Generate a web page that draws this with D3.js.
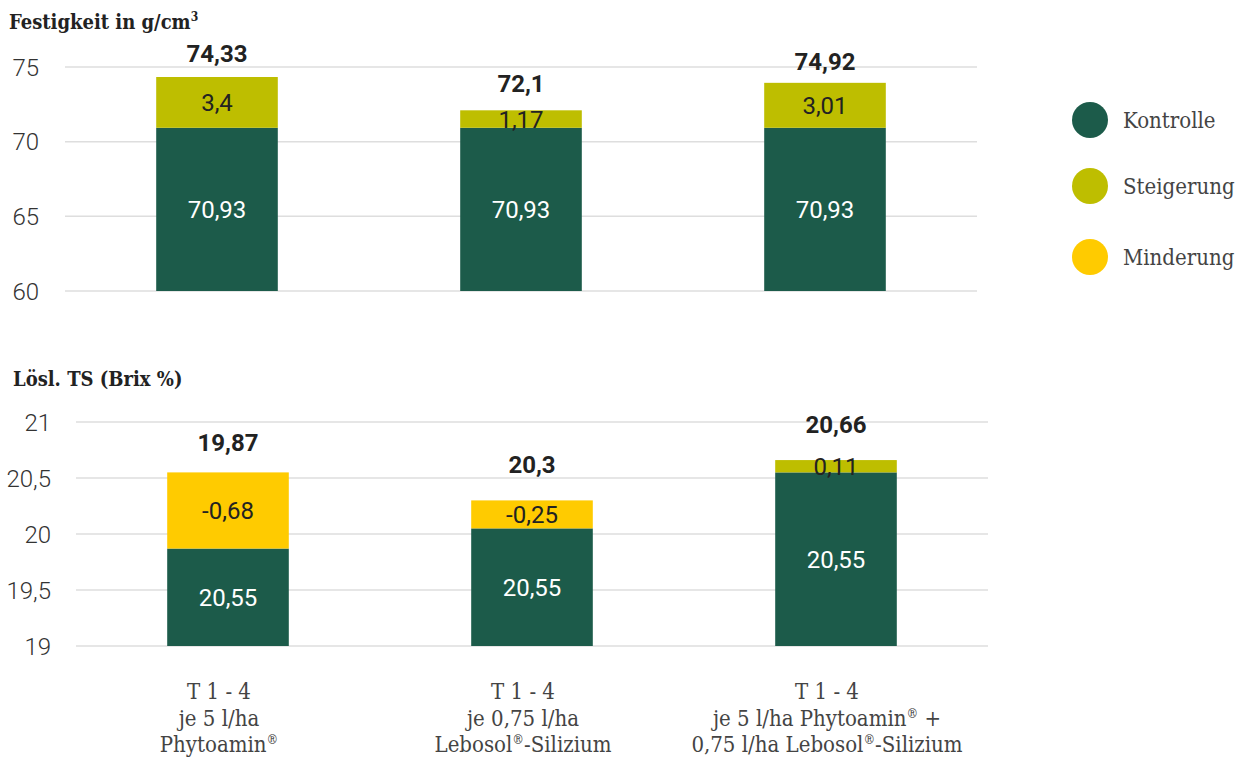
<!DOCTYPE html>
<html><head><meta charset="utf-8">
<script src="https://cdn.jsdelivr.net/npm/d3@7"></script>
<style>
body{margin:0;background:#fff;}
svg{display:block;}
.slab{font-family:"Roboto Slab","DejaVu Serif Condensed","DejaVu Serif",serif;}
.num{font-family:Roboto,"Noto Sans",sans-serif;}
</style></head>
<body><svg id="c" width="1252" height="760"></svg>
<script>
// ---- data ----
const categories = ["Phytoamin", "Lebosol", "Kombi"];
const xLabelLines = [
  ["T 1 - 4", "je 5 l/ha", "Phytoamin®"],
  ["T 1 - 4", "je 0,75 l/ha", "Lebosol®-Silizium"],
  ["T 1 - 4", "je 5 l/ha Phytoamin® +", "0,75 l/ha Lebosol®-Silizium"]
];
const festTitle = "Festigkeit in g/cm";
const festTitleSup = "3";
const festTicks = [60, 65, 70, 75];
const festKontrolle = [70.93, 70.93, 70.93];
const festSteigerung = [3.4, 1.17, 3.01];
const festMinderung = [0, 0, 0];
const festTotalLabels = ["74,33", "72,1", "74,92"];

const brixTitle = "Lösl. TS (Brix %)";
const brixTicks = [19, 19.5, 20, 20.5, 21];
const brixBase = [19.87, 20.05, 20.55];      // drawn height of the Kontrolle segment
const brixKontrolle = [20.55, 20.55, 20.55]; // printed Kontrolle value
const brixSteigerung = [0, 0, 0.11];
const brixMinderung = [0.68, 0.25, 0];
const brixTotalLabels = ["19,87", "20,3", "20,66"];

const legendNames = ["Kontrolle", "Steigerung", "Minderung"];
const colors = {Kontrolle: "#1c5b4a", Steigerung: "#bebe00", Minderung: "#ffcb00"};

const fmt = v => String(v).replace(".", ",");
const svg = d3.select("#c");

function panel(opt) {
  const x = d3.scaleBand().domain(categories).range(opt.xr).paddingInner(0.6).paddingOuter(0.3);
  const y = d3.scaleLinear().domain(opt.domain).range(opt.yr);
  const g = svg.append("g");
  g.selectAll("line.grid").data(opt.ticks).join("line")
    .attr("x1", opt.xr[0]).attr("x2", opt.xr[1])
    .attr("y1", d => y(d)).attr("y2", d => y(d))
    .attr("stroke", "#dedede").attr("stroke-width", 1.5);
  g.selectAll("text.tick").data(opt.ticks).join("text")
    .attr("class", "num").attr("x", opt.tickX).attr("y", d => y(d)).attr("dy", "0.36em")
    .attr("text-anchor", "end").attr("font-size", 24).attr("font-weight", 300).attr("fill", "#333")
    .text(d => fmt(d));
  const tt = g.append("text").attr("class", "slab").attr("x", opt.titleX).attr("y", opt.titleY)
    .attr("font-size", 20).attr("font-weight", 700).attr("fill", "#222");
  tt.append("tspan").text(opt.title);
  if (opt.titleSup) tt.append("tspan").attr("font-size", 12).attr("dy", -8).text(opt.titleSup);

  categories.forEach((c, i) => {
    const segs = [];
    let cur = opt.domain[0];
    segs.push({k: "Kontrolle", y0: cur, y1: opt.base[i], label: fmt(opt.kontrolle[i]), fill: "#fff"});
    cur = opt.base[i];
    if (opt.minderung[i] > 0) { segs.push({k: "Minderung", y0: cur, y1: cur + opt.minderung[i], label: "-" + fmt(opt.minderung[i]), fill: "#222"}); cur += opt.minderung[i]; }
    if (opt.steigerung[i] > 0) { segs.push({k: "Steigerung", y0: cur, y1: cur + opt.steigerung[i], label: fmt(opt.steigerung[i]), fill: "#222"}); cur += opt.steigerung[i]; }
    segs.forEach(s => {
      g.append("rect").attr("x", x(c)).attr("width", x.bandwidth())
        .attr("y", y(s.y1)).attr("height", y(s.y0) - y(s.y1)).attr("fill", colors[s.k]);
    });
    segs.forEach(s => {
      g.append("text").attr("class", "num").attr("x", x(c) + x.bandwidth() / 2)
        .attr("y", (y(s.y0) + y(s.y1)) / 2).attr("dy", "0.36em").attr("text-anchor", "middle")
        .attr("font-size", 24).attr("font-weight", 400).attr("fill", s.fill).text(s.label);
    });
    g.append("text").attr("class", "num").attr("x", x(c) + x.bandwidth() / 2)
      .attr("y", y(cur) - opt.totalOff[i]).attr("text-anchor", "middle")
      .attr("font-size", 24).attr("font-weight", 700).attr("fill", "#222").text(opt.totals[i]);
  });
  return x;
}

const xTop = panel({xr: [65, 977], yr: [291, 67], domain: [60, 75], ticks: festTicks, tickX: 39,
  title: festTitle, titleSup: festTitleSup, titleX: 9, titleY: 29,
  base: festKontrolle, kontrolle: festKontrolle, steigerung: festSteigerung, minderung: festMinderung,
  totals: festTotalLabels, totalOff: [15, 18, 13]});

panel({xr: [76, 988], yr: [646, 422], domain: [19, 21], ticks: brixTicks, tickX: 51,
  title: brixTitle, titleX: 13, titleY: 386,
  base: brixBase, kontrolle: brixKontrolle, steigerung: brixSteigerung, minderung: brixMinderung,
  totals: brixTotalLabels, totalOff: [21, 27, 27]});

// x labels
categories.forEach((c, i) => {
  const t = svg.append("text").attr("class", "slab").attr("text-anchor", "middle")
    .attr("font-size", 22).attr("font-weight", 300).attr("fill", "#444");
  xLabelLines[i].forEach((ln, j) => {
    const parts = ln.split("®");
    t.append("tspan").attr("x", xTop(c) + xTop.bandwidth() / 2 + 2).attr("y", 699 + j * 26.5).text(parts[0]);
    for (let p = 1; p < parts.length; p++) {
      t.append("tspan").attr("font-size", 13).attr("dy", -8).text("®");
      t.append("tspan").attr("dy", 8).text(parts[p]);
    }
  });
});

// legend
const leg = svg.append("g");
const legY = d3.scaleOrdinal().domain(legendNames).range([120, 186, 257]);
legendNames.forEach(n => {
  leg.append("circle").attr("cx", 1090).attr("cy", legY(n)).attr("r", 18).attr("fill", colors[n]);
  leg.append("text").attr("class", "slab").attr("x", 1123).attr("y", legY(n)).attr("dy", "0.36em")
    .attr("font-size", 22).attr("font-weight", 300).attr("fill", "#444").text(n);
});
</script></body></html>
